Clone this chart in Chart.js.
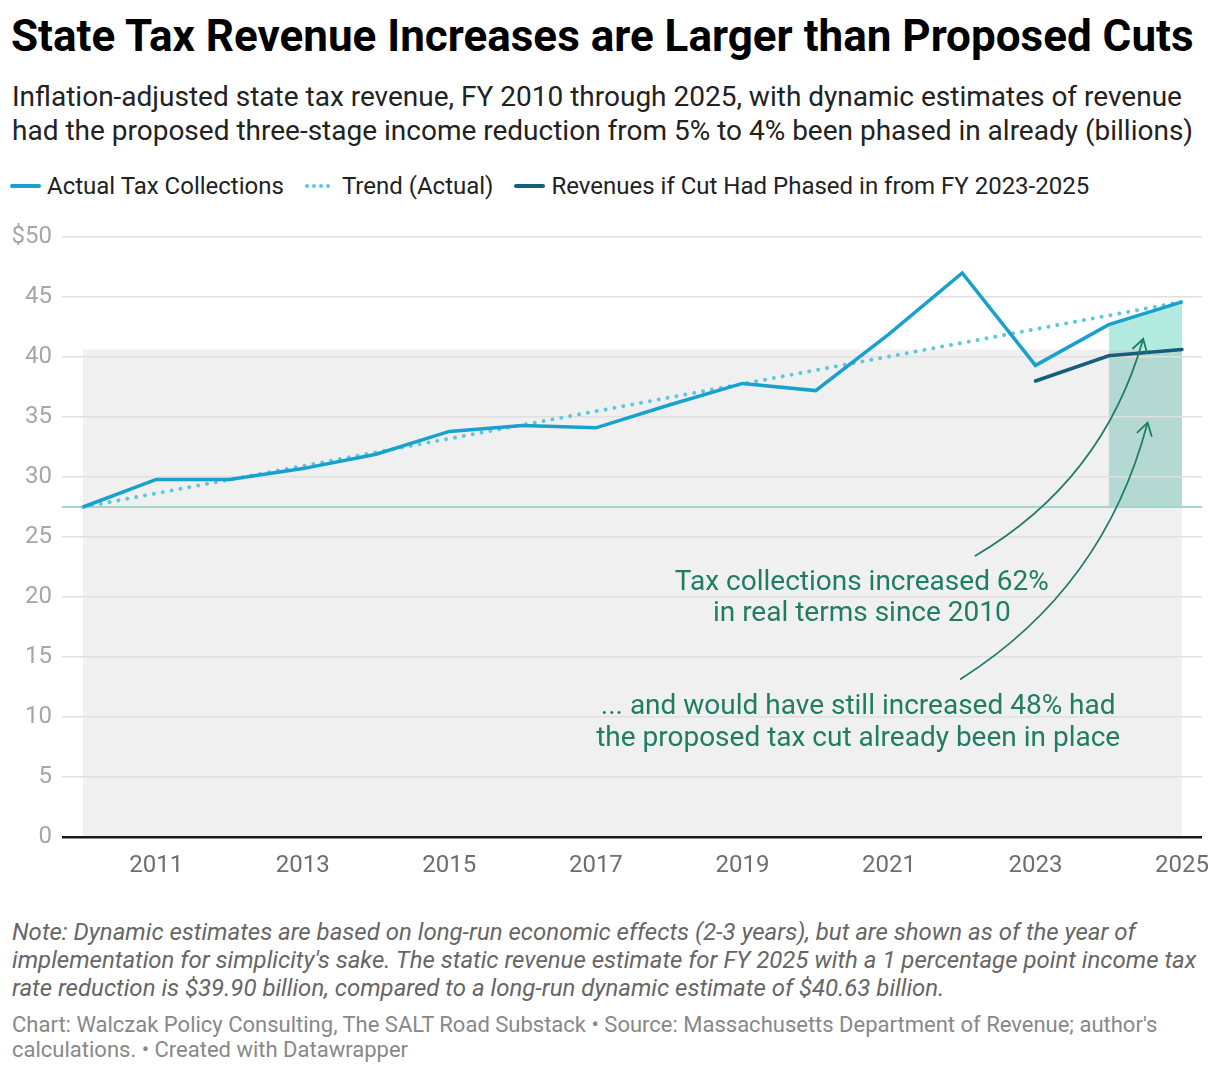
<!DOCTYPE html>
<html lang="en">
<head>
<meta charset="UTF-8">
<title>State Tax Revenue Increases are Larger than Proposed Cuts</title>
<style>
  body { margin: 0; background: #fff; font-family: Roboto, "Noto Sans", sans-serif; }
  .wrap { position: relative; width: 1220px; height: 1074px; overflow: hidden; }
  h1 { position: absolute; left: 11px; top: 12px; margin: 0; font-size: 44px; line-height: 48px;
       font-weight: 700; color: #000; white-space: nowrap; }
  .sub { position: absolute; left: 12px; top: 80px; margin: 0; font-size: 28px; line-height: 34px; color: #222; white-space: nowrap; }
  .legend { position: absolute; left: 10px; top: 172px; height: 28px; display: flex; align-items: center;
            font-size: 24px; color: #222; white-space: nowrap; }
  .legend .item { display: flex; align-items: center; margin-right: 21px; }
  .legend svg { margin-right: 6px; }
  .chartbox { position: absolute; left: 0; top: 220px; width: 1220px; height: 670px; }
  .note { position: absolute; left: 12px; top: 918px; margin: 0; font-size: 24px; line-height: 28px;
          font-style: italic; color: #666; white-space: nowrap; }
  .credit { position: absolute; left: 12px; top: 1012px; margin: 0; font-size: 22px; line-height: 25px; color: #888; white-space: nowrap; }
</style>
</head>
<body>
<div class="wrap">
  <h1>State Tax Revenue Increases are Larger than Proposed Cuts</h1>
  <p class="sub">Inflation-adjusted state tax revenue, FY 2010 through 2025, with dynamic estimates of revenue<br>had the proposed three-stage income reduction from 5% to 4% been phased in already (billions)</p>

  <div class="legend">
    <span class="item"><svg width="31" height="8"><line x1="2" y1="4" x2="29" y2="4" stroke="#18a1cd" stroke-width="4" stroke-linecap="round"/></svg>Actual Tax Collections</span>
    <span class="item"><svg width="31" height="8"><line x1="2" y1="4" x2="29" y2="4" stroke="#5bc8dc" stroke-width="4" stroke-linecap="round" stroke-dasharray="0 7"/></svg>Trend (Actual)</span>
    <span class="item"><svg width="31" height="8"><line x1="2" y1="4" x2="29" y2="4" stroke="#135f7d" stroke-width="4" stroke-linecap="round"/></svg>Revenues if Cut Had Phased in from FY 2023-2025</span>
  </div>

  <div class="chartbox"><canvas id="chart"></canvas></div>

  <p class="note">Note: Dynamic estimates are based on long-run economic effects (2-3 years), but are shown as of the year of<br>implementation for simplicity's sake. The static revenue estimate for FY 2025 with a 1 percentage point income tax<br>rate reduction is $39.90 billion, compared to a long-run dynamic estimate of $40.63 billion.</p>
  <p class="credit">Chart: Walczak Policy Consulting, The SALT Road Substack • Source: Massachusetts Department of Revenue; author's<br>calculations. • Created with Datawrapper</p>
</div>

<script src="https://cdn.jsdelivr.net/npm/chart.js@4.4.1/dist/chart.umd.min.js"></script>
<script>
  // fiscal years and revenue, billions
  var years = [2010, 2011, 2012, 2013, 2014, 2015, 2016, 2017, 2018, 2019, 2020, 2021, 2022, 2023, 2024, 2025];
  var actual = [27.5, 29.8, 29.8, 30.7, 31.9, 33.8, 34.3, 34.1, 36.0, 37.8, 37.2, 41.9, 47.0, 39.3, 42.7, 44.6];

  // trend line: only its two ends are known
  var trendYears = [2010, 2025];
  var trend = [27.5, 44.6];

  // revenues if the cut had phased in
  var cutYears = [2023, 2024, 2025];
  var cut = [38.0, 40.1, 40.63];

  var baseValue = 27.5;        // FY 2010 level
  var dynamic2025 = 40.63;     // height of the grey band
  var highlightYears = [2024, 2025];

  var xTicks = [2011, 2013, 2015, 2017, 2019, 2021, 2023, 2025];
  var yTicks = [0, 5, 10, 15, 20, 25, 30, 35, 40, 45, 50];

  var X_MIN = 2009.713, X_MAX = 2025.273;
  var GREEN = '#1e7d63';

  function pts(xs, ys) {
    return xs.map(function (x, i) { return { x: x, y: ys[i] }; });
  }

  var actualAt = {};
  years.forEach(function (yr, i) { actualAt[yr] = actual[i]; });

  // text notes and arrows, placed in data units
  var labels = [
    { x: 2020.63, y: 21.45, lines: ['Tax collections increased 62%', 'in real terms since 2010'] },
    { x: 2020.58, y: 11.05, lines: ['... and would have still increased 48% had', 'the proposed tax cut already been in place'] }
  ];
  var arrows = [
    { from: [2022.18, 23.44], ctrl: [2023.92, 29.67], to: [2024.47, 41.5] },
    { from: [2021.98, 13.17], ctrl: [2023.94, 20.75], to: [2024.53, 34.53] }
  ];

  var annotations = {
    id: 'annotations',
    afterDatasetsDraw: function (chart) {
      var ctx = chart.ctx, x = chart.scales.x, y = chart.scales.y;
      ctx.save();
      ctx.fillStyle = GREEN;
      ctx.font = '28px Roboto';
      ctx.textAlign = 'center';
      ctx.textBaseline = 'alphabetic';
      labels.forEach(function (l) {
        var px = x.getPixelForValue(l.x), py = y.getPixelForValue(l.y);
        l.lines.forEach(function (t, i) { ctx.fillText(t, px, py + 10 + i * 31.5); });
      });

      ctx.strokeStyle = GREEN;
      ctx.lineWidth = 1.8;
      ctx.lineCap = 'round';
      arrows.forEach(function (a) {
        var x0 = x.getPixelForValue(a.from[0]), y0 = y.getPixelForValue(a.from[1]);
        var cx = x.getPixelForValue(a.ctrl[0]), cy = y.getPixelForValue(a.ctrl[1]);
        var x1 = x.getPixelForValue(a.to[0]), y1 = y.getPixelForValue(a.to[1]);
        ctx.beginPath();
        ctx.moveTo(x0, y0);
        ctx.quadraticCurveTo(cx, cy, x1, y1);
        ctx.stroke();
        var ang = Math.atan2(y1 - cy, x1 - cx);
        ctx.beginPath();
        ctx.moveTo(x1 - 14 * Math.cos(ang - 0.55), y1 - 14 * Math.sin(ang - 0.55));
        ctx.lineTo(x1, y1);
        ctx.lineTo(x1 - 14 * Math.cos(ang + 0.55), y1 - 14 * Math.sin(ang + 0.55));
        ctx.stroke();
      });
      ctx.restore();
    }
  };

  var lineStyle = { pointRadius: 0, pointHoverRadius: 0, tension: 0, fill: false };

  function noPad(scale) {
    scale.paddingTop = 0; scale.paddingBottom = 0;
    scale.paddingLeft = 0; scale.paddingRight = 0;
  }

  new Chart(document.getElementById('chart'), {
    type: 'line',
    data: {
      datasets: [
        Object.assign({ label: 'Actual Tax Collections', data: pts(years, actual),
          borderColor: '#18a1cd', borderWidth: 3.5, borderJoinStyle: 'miter' }, lineStyle),
        Object.assign({ label: 'Revenues if Cut Had Phased in from FY 2023-2025', data: pts(cutYears, cut),
          borderColor: '#135f7d', borderWidth: 3.5, borderCapStyle: 'round' }, lineStyle),
        Object.assign({ label: 'Trend (Actual)', data: pts(trendYears, trend),
          borderColor: '#5bc8dc', borderWidth: 4, borderCapStyle: 'round', borderDash: [0.01, 9] }, lineStyle),
        Object.assign({ label: 'base', data: pts([X_MIN, X_MAX], [baseValue, baseValue]),
          borderColor: '#a5d6c7', borderWidth: 2 }, lineStyle),
        Object.assign({}, lineStyle, { label: 'gain', data: pts(highlightYears, highlightYears.map(function (yr) { return actualAt[yr]; })),
          borderColor: 'transparent', borderWidth: 0, backgroundColor: '#b3eadf', fill: { value: dynamic2025 } }),
        Object.assign({}, lineStyle, { label: 'gain kept', data: pts(highlightYears, [dynamic2025, dynamic2025]),
          borderColor: 'transparent', borderWidth: 0, backgroundColor: '#b4d8d2', fill: { value: baseValue } }),
        Object.assign({}, lineStyle, { label: 'band', data: pts([years[0], years[years.length - 1]], [dynamic2025, dynamic2025]),
          borderColor: 'transparent', borderWidth: 0, backgroundColor: '#f0f0f0', fill: 'origin' })
      ]
    },
    options: {
      responsive: true,
      maintainAspectRatio: false,
      animation: false,
      events: [],
      layout: { padding: { left: 0, right: 18, top: 17, bottom: 0 } },
      plugins: {
        legend: { display: false },
        tooltip: { enabled: false },
        filler: { drawTime: 'beforeDraw' }
      },
      scales: {
        x: {
          type: 'linear',
          min: X_MIN,
          max: X_MAX,
          grid: { display: false, drawTicks: false },
          border: { display: false },
          afterBuildTicks: function (scale) {
            scale.ticks = xTicks.map(function (v) { return { value: v }; });
          },
          afterFit: function (scale) { scale.height = 53; noPad(scale); },
          ticks: {
            autoSkip: false,
            maxRotation: 0,
            padding: 15,
            color: '#6e6e6e',
            font: { family: 'Roboto', size: 24 },
            callback: function (v) { return String(v); }
          }
        },
        y: {
          min: 0,
          max: 50,
          afterBuildTicks: function (scale) {
            scale.ticks = yTicks.map(function (v) { return { value: v }; });
          },
          afterFit: function (scale) { scale.width = 62; noPad(scale); },
          border: { display: false },
          grid: {
            drawTicks: false,
            color: function (c) { return c.tick && c.tick.value === 0 ? '#1a1a1a' : '#e0e0e0'; },
            lineWidth: function (c) { return c.tick && c.tick.value === 0 ? 2.5 : 1.5; }
          },
          ticks: {
            padding: 10,
            color: '#a6a6a6',
            font: { family: 'Roboto', size: 24 },
            callback: function (v) { return v === 50 ? '$50' : String(v); }
          }
        }
      }
    },
    plugins: [annotations]
  });
</script>
</body>
</html>
